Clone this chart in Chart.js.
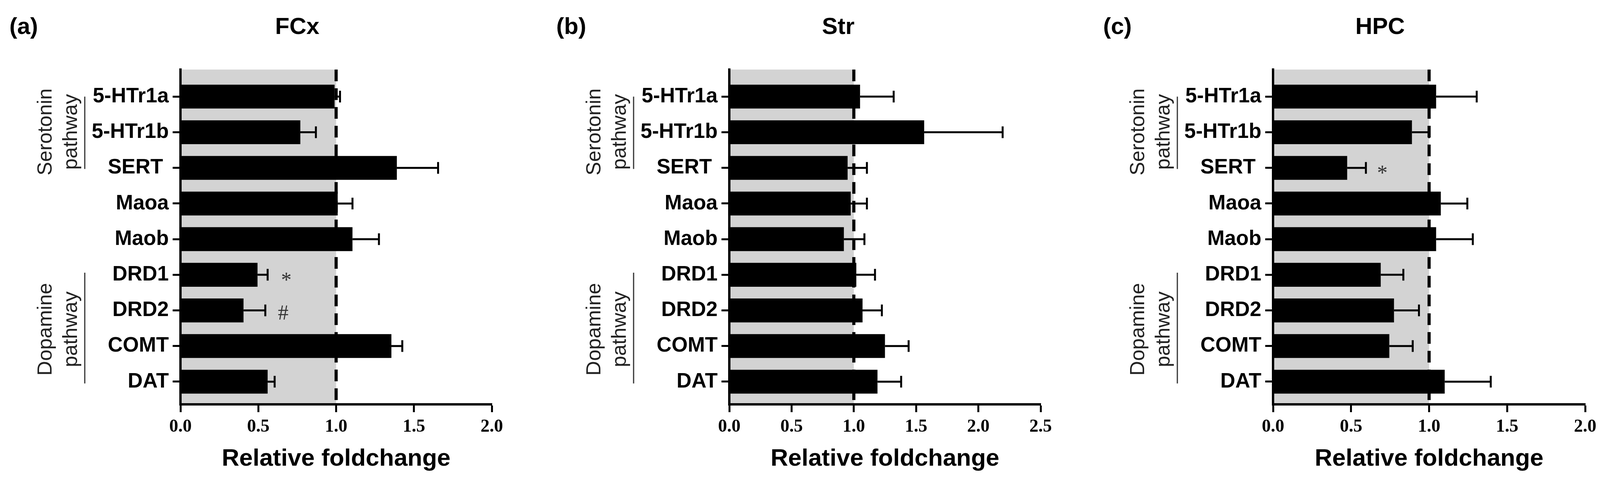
<!DOCTYPE html>
<html>
<head>
<meta charset="utf-8">
<script src="https://cdn.jsdelivr.net/npm/chart.js@4.4.1/dist/chart.umd.min.js"></script>
<style>
  html, body { margin: 0; padding: 0; background: #fff; }
  body { width: 4099px; height: 1244px; position: relative; overflow: hidden; }
  .panel { position: absolute; top: 0; height: 1244px; }
</style>
</head>
<body>
<div class="panel" style="left:0;width:1400px"><canvas id="fcx"></canvas></div>
<div class="panel" style="left:1400px;width:1400px"><canvas id="str"></canvas></div>
<div class="panel" style="left:2800px;width:1299px"><canvas id="hpc"></canvas></div>
<script>
// genes, top to bottom
const genes = ['5-HTr1a', '5-HTr1b', 'SERT ', 'Maoa', 'Maob', 'DRD1', 'DRD2', 'COMT', 'DAT'];

// relative fold change (mean) and upper error (SEM) per region
const fcxMean = [0.99, 0.77, 1.39, 1.01, 1.105, 0.495, 0.405, 1.355, 0.56];
const fcxErr  = [0.035, 0.10, 0.265, 0.095, 0.17, 0.065, 0.14, 0.07, 0.045];
const strMean = [1.05, 1.565, 0.95, 0.975, 0.92, 1.02, 1.07, 1.25, 1.19];
const strErr  = [0.27, 0.63, 0.155, 0.13, 0.165, 0.15, 0.155, 0.19, 0.19];
const hpcMean = [1.045, 0.89, 0.475, 1.075, 1.045, 0.69, 0.775, 0.745, 1.10];
const hpcErr  = [0.26, 0.11, 0.12, 0.17, 0.235, 0.145, 0.16, 0.15, 0.295];

// x axis ranges / tick step
const fcxMax = 2.0, strMax = 2.5, hpcMax = 2.0;
const xStep = 0.5;

// significance marks: gene index, x position, symbol
const fcxMarkGene = [5, 6];
const fcxMarkX    = [0.68, 0.66];
const fcxMarkText = ['*', '#'];
const hpcMarkGene = [2];
const hpcMarkX    = [0.70];
const hpcMarkText = ['*'];

// pathway groups (gene index ranges)
const serotoninRange = [0, 2.03];
const dopamineRange  = [4.94, 8.05];

const SANS = '"Liberation Sans", Arial, sans-serif';
const SERIF = '"Liberation Serif", "Times New Roman", serif';

function makeDecor(cfg) {
  return {
    id: 'decor',
    beforeDraw(chart) {
      const { ctx, chartArea: a, scales: { x } } = chart;
      ctx.save();
      ctx.fillStyle = '#d3d3d3';
      ctx.fillRect(a.left, a.top, x.getPixelForValue(1) - a.left, a.bottom - a.top);
      ctx.restore();
    },
    afterDatasetsDraw(chart) {
      const { ctx, chartArea: a, scales: { x, y } } = chart;
      ctx.save();
      // dashed line at 1.0
      const x1 = x.getPixelForValue(1);
      ctx.strokeStyle = '#000';
      ctx.lineWidth = 8;
      ctx.setLineDash([30, 18]);
      ctx.beginPath();
      ctx.moveTo(x1, a.top);
      ctx.lineTo(x1, a.bottom);
      ctx.stroke();
      ctx.setLineDash([]);

      // one-sided error bars
      ctx.lineWidth = 5;
      cfg.mean.forEach((m, i) => {
        const py = y.getPixelForValue(i);
        const p0 = x.getPixelForValue(m);
        const p1 = x.getPixelForValue(m + cfg.err[i]);
        ctx.beginPath();
        ctx.moveTo(p0, py); ctx.lineTo(p1, py);
        ctx.moveTo(p1, py - 15); ctx.lineTo(p1, py + 15);
        ctx.stroke();
      });

      // significance marks
      ctx.fillStyle = '#333';
      ctx.font = '54px ' + SERIF;
      ctx.textAlign = 'center';
      ctx.textBaseline = 'alphabetic';
      cfg.markGene.forEach((g, i) => {
        const t = cfg.markText[i];
        const mt = ctx.measureText(t);
        const cy = y.getPixelForValue(g) + 5;
        ctx.fillText(t, x.getPixelForValue(cfg.markX[i]), cy + (mt.actualBoundingBoxAscent - mt.actualBoundingBoxDescent) / 2);
      });
      ctx.restore();
    },
    afterDraw(chart) {
      const { ctx, chartArea: a, scales: { y } } = chart;
      ctx.save();
      ctx.fillStyle = '#000';
      ctx.textBaseline = 'alphabetic';
      ctx.font = 'bold 60px ' + SANS;
      ctx.textAlign = 'left';
      ctx.fillText(cfg.letter, 24, 87);
      ctx.textAlign = 'center';
      ctx.fillText(cfg.title, cfg.titleX, 87);

      // pathway labels
      const groups = [['Serotonin', serotoninRange, 0.99], ['Dopamine', dopamineRange, 6.53]];
      groups.forEach(([name, range, mid]) => {
        const cy = y.getPixelForValue(mid);
        ctx.save();
        ctx.fillStyle = '#222';
        ctx.font = '52px ' + SANS;
        ctx.textAlign = 'center';
        ctx.translate(a.left - 330, cy);
        ctx.rotate(-Math.PI / 2);
        ctx.fillText(name, 0, 0);
        ctx.fillText('pathway', 0, 65);
        ctx.restore();
        ctx.strokeStyle = '#333';
        ctx.lineWidth = 3;
        ctx.beginPath();
        ctx.moveTo(a.left - 245, y.getPixelForValue(range[0]));
        ctx.lineTo(a.left - 245, y.getPixelForValue(range[1]));
        ctx.stroke();
      });
      ctx.restore();
    }
  };
}

function makePanel(id, cfg) {
  const canvas = document.getElementById(id);
  const W = canvas.parentNode.clientWidth;
  return new Chart(canvas, {
    type: 'bar',
    data: {
      datasets: [{
        data: cfg.mean.map((m, i) => ({ x: m, y: i })),
        backgroundColor: '#000',
        borderWidth: 0,
        barPercentage: 0.67,
        categoryPercentage: 1
      }]
    },
    options: {
      indexAxis: 'y',
      responsive: true,
      maintainAspectRatio: false,
      animation: false,
      devicePixelRatio: 1,
      layout: { padding: { top: 178, left: 0, right: W - cfg.plotRight, bottom: 0 } },
      plugins: { legend: { display: false }, tooltip: { enabled: false }, title: { display: false } },
      scales: {
        x: {
          type: 'linear',
          min: 0,
          max: cfg.xMax,
          afterFit: s => { s.height = 209; },
          border: { display: true, color: '#000', width: 6 },
          grid: { drawOnChartArea: false, drawTicks: true, tickLength: 20, tickWidth: 5, tickColor: '#000' },
          ticks: {
            stepSize: xStep,
            padding: 11,
            maxRotation: 0,
            color: '#000',
            font: { family: SERIF, weight: 'bold', size: 46 },
            callback: v => v.toFixed(1)
          },
          title: {
            display: true,
            text: 'Relative foldchange',
            color: '#000',
            font: { family: SANS, weight: 'bold', size: 62 },
            padding: { top: 0, bottom: 32 }
          }
        },
        y: {
          type: 'linear',
          reverse: true,
          offset: false,
          min: -0.76,
          max: 8.636,
          afterFit: s => { s.width = cfg.plotLeft; },
          // one tick per gene
          afterBuildTicks: s => { s.ticks = genes.map((g, i) => ({ value: i })); },
          border: { display: true, color: '#000', width: 6 },
          grid: { offset: false, drawOnChartArea: false, drawTicks: true, tickLength: 20, tickWidth: 5, tickColor: '#000' },
          ticks: {
            autoSkip: false,
            padding: 10,
            color: '#000',
            font: { family: SANS, weight: 'bold', size: 53 },
            callback: v => genes[v]
          }
        }
      }
    },
    plugins: [makeDecor(cfg)]
  });
}

makePanel('fcx', {
  mean: fcxMean, err: fcxErr, xMax: fcxMax, plotLeft: 462, plotRight: 1259,
  letter: '(a)', title: 'FCx', titleX: 761,
  markGene: fcxMarkGene, markX: fcxMarkX, markText: fcxMarkText
});
makePanel('str', {
  mean: strMean, err: strErr, xMax: strMax, plotLeft: 467, plotRight: 1264,
  letter: '(b)', title: 'Str', titleX: 746,
  markGene: [], markX: [], markText: []
});
makePanel('hpc', {
  mean: hpcMean, err: hpcErr, xMax: hpcMax, plotLeft: 459, plotRight: 1258,
  letter: '(c)', title: 'HPC', titleX: 733,
  markGene: hpcMarkGene, markX: hpcMarkX, markText: hpcMarkText
});
</script>
</body>
</html>
